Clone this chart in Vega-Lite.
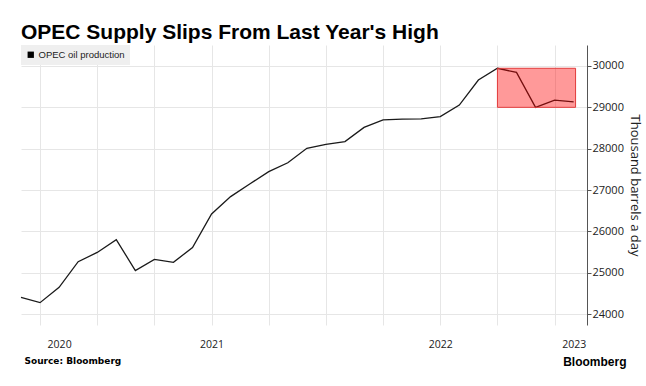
{
  "$schema": "https://vega.github.io/schema/vega-lite/v6.json",
  "width": 566,
  "height": 280,
  "autosize": {"type": "none"},
  "padding": {"left": 21, "top": 45, "right": 59, "bottom": 61},
  "background": "white",
  "config": {"view": {"stroke": null}},
  "title": {
    "text": "OPEC Supply Slips From Last Year's High",
    "anchor": "start",
    "frame": "group",
    "font": "Liberation Sans",
    "fontSize": 21,
    "fontWeight": "bold",
    "color": "#000000",
    "offset": 2
  },
  "datasets": {
    "opec": [
      {"i": 0, "v": 24400, "series": "OPEC oil production"},
      {"i": 1, "v": 24275, "series": "OPEC oil production"},
      {"i": 2, "v": 24645, "series": "OPEC oil production"},
      {"i": 3, "v": 25265, "series": "OPEC oil production"},
      {"i": 4, "v": 25490, "series": "OPEC oil production"},
      {"i": 5, "v": 25800, "series": "OPEC oil production"},
      {"i": 6, "v": 25050, "series": "OPEC oil production"},
      {"i": 7, "v": 25320, "series": "OPEC oil production"},
      {"i": 8, "v": 25250, "series": "OPEC oil production"},
      {"i": 9, "v": 25610, "series": "OPEC oil production"},
      {"i": 10, "v": 26420, "series": "OPEC oil production"},
      {"i": 11, "v": 26840, "series": "OPEC oil production"},
      {"i": 12, "v": 27145, "series": "OPEC oil production"},
      {"i": 13, "v": 27445, "series": "OPEC oil production"},
      {"i": 14, "v": 27660, "series": "OPEC oil production"},
      {"i": 15, "v": 28010, "series": "OPEC oil production"},
      {"i": 16, "v": 28105, "series": "OPEC oil production"},
      {"i": 17, "v": 28170, "series": "OPEC oil production"},
      {"i": 18, "v": 28515, "series": "OPEC oil production"},
      {"i": 19, "v": 28695, "series": "OPEC oil production"},
      {"i": 20, "v": 28715, "series": "OPEC oil production"},
      {"i": 21, "v": 28720, "series": "OPEC oil production"},
      {"i": 22, "v": 28775, "series": "OPEC oil production"},
      {"i": 23, "v": 29055, "series": "OPEC oil production"},
      {"i": 24, "v": 29660, "series": "OPEC oil production"},
      {"i": 25, "v": 29945, "series": "OPEC oil production"},
      {"i": 26, "v": 29845, "series": "OPEC oil production"},
      {"i": 27, "v": 29000, "series": "OPEC oil production"},
      {"i": 28, "v": 29175, "series": "OPEC oil production"},
      {"i": 29, "v": 29130, "series": "OPEC oil production"}
    ],
    "box": [{"x1": 25, "x2": 29.1, "y1": 29000, "y2": 29945}]
  },
  "layer": [
    {
      "data": {"name": "opec"},
      "mark": {"type": "line", "strokeWidth": 1.3},
      "encoding": {
        "x": {
          "field": "i",
          "type": "quantitative",
          "scale": {"domain": [0, 29.7], "nice": false, "zero": false},
          "axis": {
            "orient": "bottom",
            "values": [1, 2, 4, 7, 10, 13, 16, 19, 22, 25, 28, 29],
            "labelExpr": "datum.value == 2 ? '2020' : datum.value == 10 ? '2021' : datum.value == 22 ? '2022' : datum.value == 29 ? '2023' : ''",
            "grid": true,
            "gridColor": "#e6e6e6",
            "gridOpacity": {"condition": {"test": "datum.value % 3 == 1", "value": 1}, "value": 0},
            "ticks": false,
            "domain": false,
            "labelPadding": 14,
            "labelFont": "Open Sans",
            "labelFontSize": 10.5,
            "labelColor": "#222222",
            "labelFlush": false,
            "labelOverlap": false,
            "title": "Source: Bloomberg",
            "titleAnchor": "start",
            "titleAlign": "left",
            "titleBaseline": "alphabetic",
            "titleX": 3,
            "titleY": 38,
            "titleFont": "DejaVu Sans",
            "titleFontSize": 9,
            "titleFontWeight": "bold",
            "titleColor": "#000000"
          }
        },
        "y": {
          "field": "v",
          "type": "quantitative",
          "scale": {"domain": [23734, 30508], "nice": false, "zero": false},
          "axis": {
            "orient": "right",
            "values": [24000, 24500, 25000, 25500, 26000, 26500, 27000, 27500, 28000, 28500, 29000, 29500, 30000],
            "labelExpr": "datum.value % 1000 == 0 ? format(datum.value, 'd') : ''",
            "grid": true,
            "gridColor": "#e6e6e6",
            "gridOpacity": {"condition": {"test": "datum.value % 1000 == 0", "value": 1}, "value": 0},
            "tickSize": {"condition": {"test": "datum.value % 1000 == 0", "value": 4}, "value": 2},
            "tickColor": "#555555",
            "domainColor": "#555555",
            "labelFont": "Open Sans",
            "labelFontSize": 11,
            "labelColor": "#222222",
            "labelPadding": 1,
            "title": "Thousand barrels a day",
            "titleAngle": 90,
            "titleFont": "Open Sans",
            "titleFontSize": 13,
            "titleFontWeight": "normal",
            "titleColor": "#222222",
            "titlePadding": 4
          }
        },
        "color": {
          "field": "series",
          "type": "nominal",
          "scale": {"range": ["#1a1a1a"]},
          "legend": {
            "title": null,
            "orient": "none",
            "legendX": 0,
            "legendY": 0,
            "fillColor": "#efefef",
            "padding": 5,
            "symbolType": "square",
            "symbolSize": 40,
            "labelFont": "Liberation Sans",
            "labelFontSize": 9.5,
            "labelColor": "#222222",
            "labelOffset": 3,
            "encode": {"symbols": {"update": {"fill": {"value": "#000000"}, "stroke": {"value": "#000000"}, "strokeWidth": {"value": 0}}}}
          }
        }
      }
    },
    {
      "data": {"name": "box"},
      "mark": {"type": "rect", "fill": "#ff0000", "fillOpacity": 0.4, "stroke": "#e23b3b", "strokeWidth": 1},
      "encoding": {
        "x": {
          "field": "x1",
          "type": "quantitative",
          "axis": {
            "orient": "bottom",
            "labels": false,
            "ticks": false,
            "domain": false,
            "grid": false,
            "title": "Bloomberg",
            "titleAnchor": "end",
            "titleAlign": "right",
            "titleBaseline": "alphabetic",
            "titleX": 605,
            "titleY": 40,
            "titleFont": "Liberation Sans",
            "titleFontSize": 12,
            "titleFontWeight": "bold",
            "titleColor": "#000000"
          }
        },
        "x2": {"field": "x2"},
        "y": {"field": "y1", "type": "quantitative"},
        "y2": {"field": "y2"}
      }
    }
  ],
  "resolve": {"axis": {"x": "independent"}}
}
